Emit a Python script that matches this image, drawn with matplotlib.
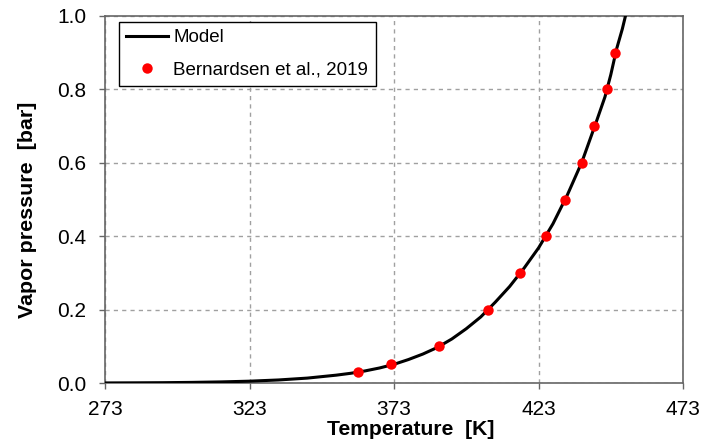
import numpy as np
from matplotlib import pyplot as plt

plt.rcParams['font.family'] = ['Liberation Sans', 'DejaVu Sans']

# Model curve
model_T = [273, 283, 293, 303, 313, 323, 333, 343, 353, 358, 363, 368, 373, 378, 383,
           388, 393, 398, 403, 408, 413, 418, 423, 428, 433, 438, 443, 446, 448, 450,
           452, 454]
model_p = [0.0002, 0.0005, 0.0009, 0.0017, 0.003, 0.005, 0.0083, 0.0134, 0.0214, 0.0265,
           0.033, 0.041, 0.051, 0.064, 0.079, 0.097, 0.12, 0.148, 0.18, 0.22, 0.263,
           0.313, 0.368, 0.434, 0.513, 0.602, 0.712, 0.78, 0.84, 0.91, 0.965, 1.03]

# Bernardsen et al., 2019
exp_T = [360.5, 372, 388.6, 405.4, 416.7, 425.6, 432.2, 437.9, 442.2, 446.7, 449.5]
exp_p = [0.03, 0.053, 0.1, 0.2, 0.3, 0.4, 0.5, 0.6, 0.7, 0.8, 0.9]

xticks = [273, 323, 373, 423, 473]
yticks = [0.0, 0.2, 0.4, 0.6, 0.8, 1.0]

fig = plt.figure(figsize=(7.02, 4.43), dpi=100)
ax = fig.add_axes([0.1496, 0.1354, 0.8234, 0.8285])

ax.plot(model_T, model_p, color='black', linewidth=2.2, label='Model', zorder=3)
ax.plot(exp_T, exp_p, linestyle='none', marker='o', markersize=7.5, color='red',
        markeredgewidth=0, label='Bernardsen et al., 2019', zorder=4)

ax.set_xlim(273, 473)
ax.set_ylim(0, 1)
ax.set_xticks(xticks)
ax.set_yticks(yticks)
ax.set_yticklabels(['%.1f' % v for v in yticks])
ax.tick_params(labelsize=15, direction='out', length=4.3, width=1, color='#666666')
ax.tick_params(axis='x', pad=8)
ax.tick_params(axis='y', pad=9)
ax.grid(True, color='#a0a0a0', linestyle=(0, (3, 3)), linewidth=1)
for s in ax.spines.values():
    s.set_color('#666666')
    s.set_linewidth(1.2)

ax.set_xlabel('Temperature  [K]', fontsize=15.2, fontweight='bold')
ax.set_ylabel('Vapor pressure  [bar]', fontsize=15.4, fontweight='bold')
ax.xaxis.set_label_coords(0.529, -0.1)
ax.yaxis.set_label_coords(-0.118, 0.473)

leg = ax.legend(loc='upper left', bbox_to_anchor=(0.024, 0.984), borderaxespad=0,
                fontsize=13.5, frameon=True, fancybox=False, edgecolor='black',
                framealpha=1, handlelength=2.24, labelspacing=0.8, borderpad=0.4,
                handletextpad=0.27)
leg.get_frame().set_linewidth(1)

plt.savefig('out.png', dpi=100)
